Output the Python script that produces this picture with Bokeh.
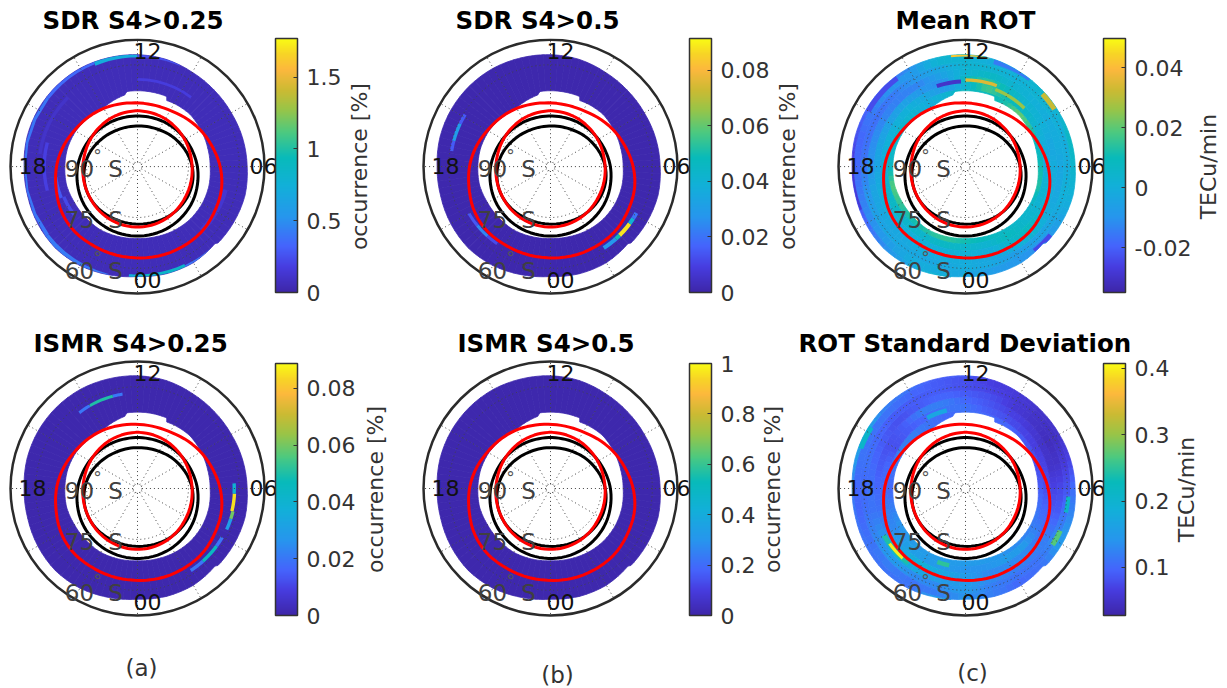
import math
import numpy as np
from bokeh.plotting import figure
from bokeh.layouts import column, row
from bokeh.models import (ColorBar, ColumnDataSource, FixedTicker, Label, LinearColorMapper, Range1d)
from bokeh.transform import transform
from bokeh.core.properties import value
from bokeh.embed import file_html
from bokeh.resources import INLINE

# Magnetic local time (hours) and colatitude of the coverage ring (deg from the pole)
MLT_HOURS = list(range(24))
INNER_MLT = [0, 1, 2, 3, 4, 5, 6, 7, 8, 9, 10, 10.42, 10.5, 11, 12, 12.55, 12.65, 13, 14, 15, 16, 17, 18, 19, 20, 21, 22, 23]
RING_INNER = [21.3, 21.5, 21.8, 22.0, 22.0, 21.8, 21.4, 21.4, 21.6, 21.9, 21.6, 21.4, 22.5, 22.5, 22.5, 22.5, 21.6,
              21.2, 20.1, 20.4, 21.0, 21.3, 21.4, 21.6, 21.4, 21.5, 21.7, 21.5]
OUTER_MLT = [0, 1, 2, 3, 3.05, 4, 5, 6, 7, 8, 9, 10, 11, 12, 13, 14, 15, 16, 17, 18, 19, 20, 21, 22, 23]
RING_OUTER = [32.6, 32.9, 32.9, 32.3, 32.8, 32.8, 32.8, 32.3, 32.1, 31.9, 32.0, 32.3, 32.9,
              33.2, 33.4, 33.7, 33.8, 33.8, 33.7, 33.4, 33.5, 33.9, 34.2, 33.9, 33.2]
BAND_EDGES = [20, 23, 25, 27, 29, 31, 33, 36]

# Oval boundaries (colatitude by MLT, 0..23)
RED_OUTER = [27.3, 27.5, 27.4, 27.3, 26.5, 25.9, 24.6, 23.0, 21.7, 20.4, 19.3, 19.0,
             19.0, 19.4, 20.1, 20.8, 21.6, 22.9, 24.1, 25.0, 26.3, 27.0, 27.0, 27.2]
RED_INNER = [18.1, 18.0, 17.7, 17.3, 16.8, 16.5, 16.2, 16.1, 16.2, 16.3, 16.5, 16.6,
             16.7, 16.6, 16.5, 16.3, 16.2, 16.1, 16.2, 16.5, 16.8, 17.3, 17.7, 18.0]
BLACK_OUTER = [20.8, 20.7, 20.4, 19.9, 19.3, 18.5, 17.8, 17.0, 16.4, 15.9, 15.5, 15.2,
               15.1, 15.2, 15.5, 15.9, 16.4, 17.0, 17.8, 18.5, 19.3, 19.9, 20.4, 20.7]
BLACK_INNER = [17.2, 17.3, 17.5, 17.5, 17.4, 17.0, 16.3, 15.3, 14.3, 13.5, 12.7, 12.3,
               12.1, 12.2, 12.5, 13.1, 13.9, 14.9, 15.7, 16.4, 16.9, 17.1, 17.1, 17.1]

# Field values: rows inner -> outer, columns MLT 0..23
MEAN_ROT = [
    [11, 9, 7, 5, 5, 13, 11, 7, 13, 21, 11, 9, 9, 3, -1, 3, 5, 5, 7, 19, 15, 11, 13, 15],
    [5, 3, 9, 5, 3, 3, -1, -1, 3, 7, 11, 17, 3, -9, -3, 1, 1, 1, 1, 5, 7, 5, 5, 7],
    [1, -1, 5, 9, 3, -1, -1, -3, 1, 3, 7, 15, 9, -11, -9, -5, -6, -4, -4, -1, 1, 1, 1, 1],
    [-1, -3, -1, 3, -1, -3, -3, -1, -1, 1, 3, 7, 3, -5, -13, -14, -13, -11, -10, -4, -3, -3, -1, -1],
    [-1, -3, -7, -5, -3, 1, -1, -1, 1, 3, 1, 3, 3, -3, -9, -15, -17, -17, -16, -10, -5, -3, -3, -3],
    [-3, -7, -9, -11, -5, 1, 5, 7, 3, 5, 1, -1, 3, 3, -9, -10, -15, -19, -19, -15, -11, -7, -1, -1],
    [3, -5, -9, -7, -3, 3, 7, 9, 19, 5, -11, -1, 7, 3, -11, -19, -19, -23, -28, -23, -19, -11, -3, 3],
]
ROT_STD = [
    [150, 150, 140, 130, 120, 110, 90, 80, 80, 90, 100, 100, 110, 100, 110, 120, 120, 110, 100, 120, 140, 150, 150, 150],
    [140, 140, 150, 150, 120, 100, 80, 70, 65, 70, 80, 90, 110, 110, 100, 90, 80, 100, 100, 120, 130, 160, 150, 150],
    [150, 130, 130, 130, 110, 90, 70, 50, 50, 60, 70, 85, 100, 120, 120, 90, 80, 90, 100, 110, 130, 170, 190, 170],
    [150, 130, 120, 120, 120, 90, 75, 50, 42, 50, 60, 80, 90, 100, 90, 80, 90, 100, 110, 110, 140, 190, 170, 150],
    [150, 120, 110, 110, 130, 110, 85, 60, 45, 50, 60, 70, 80, 90, 90, 90, 100, 110, 100, 110, 130, 150, 130, 130],
    [140, 120, 100, 110, 150, 130, 105, 70, 50, 50, 60, 65, 80, 90, 100, 110, 110, 110, 100, 100, 110, 120, 110, 120],
    [180, 150, 110, 120, 170, 150, 120, 80, 60, 60, 65, 70, 90, 90, 110, 120, 160, 150, 120, 110, 110, 110, 110, 150],
]
SDR_025_BASE = 0.05
SDR_05_BASE = 0.001
ISMR_025_BASE = 0.001
ISMR_05_BASE = 0.01

# Localised arcs: (MLT from, MLT to, colat from, colat to, value)
SDR_025_ARCS = [(15.5, 20.5, 32.9, 36, 0.40), (20.5, 23.0, 33.0, 36, 0.42), (12.0, 13.5, 32.4, 36, 0.72),
                (13.5, 15.5, 32.9, 36, 0.35), (10.5, 12.0, 32.4, 36, 0.25),
                (23.7, 24.0, 32.0, 36, 0.75), (0.0, 1.7, 32.0, 36, 0.85), (1.7, 2.8, 32.4, 36, 0.4),
                (9.5, 12.0, 25.5, 26.3, 0.17), (17.0, 19.0, 27.0, 28.0, 0.18), (15.0, 17.5, 28.5, 29.5, 0.11),
                (18.5, 19.5, 23.8, 24.8, 0.28), (3.0, 5.0, 26.0, 27.5, 0.13), (19.5, 20.5, 23.0, 24.0, 0.22)]
SDR_05_ARCS = [(15.9, 16.3, 29.0, 30.0, 0.015), (16.3, 17.0, 29.0, 30.0, 0.03), (17.0, 17.4, 29.0, 30.0, 0.015),
               (20.0, 20.6, 27.3, 28.2, 0.014), (20.6, 21.2, 27.3, 28.2, 0.024), (21.2, 21.7, 27.3, 28.2, 0.012),
               (2.2, 2.8, 28.2, 29.4, 0.028), (2.8, 3.0, 28.2, 29.4, 0.05), (3.0, 3.6, 28.2, 29.4, 0.088),
               (3.6, 3.85, 28.2, 29.4, 0.04), (3.85, 4.1, 28.2, 29.4, 0.02)]
MEAN_ROT_ARCS = [(11.2, 12.5, 32.7, 36, 0.042), (10.6, 12.0, 25.2, 26.2, 0.035), (12.2, 13.3, 24.7, 25.9, -0.03),
                 (8.2, 8.9, 30.5, 36, 0.032), (9.6, 11.0, 31.5, 33.0, -0.015), (14.5, 16.0, 32.3, 36, -0.024),
                 (18.0, 19.5, 33.0, 36, -0.028), (2.6, 3.4, 31.5, 36, -0.025), (9.0, 10.6, 24.0, 25.0, 0.026)]
ISMR_025_ARCS = [(12.6, 13.0, 27.7, 28.6, 0.02), (13.0, 14.0, 27.7, 28.6, 0.05), (14.0, 14.5, 27.7, 28.6, 0.02),
                 (4.35, 4.8, 28.4, 29.4, 0.03), (4.8, 5.1, 28.4, 29.4, 0.06), (5.1, 5.8, 28.1, 29.1, 0.085),
                 (5.8, 6.2, 28.0, 29.0, 0.04), (2.2, 2.8, 28.3, 29.3, 0.02), (2.8, 3.6, 28.3, 29.3, 0.045),
                 (3.6, 4.0, 28.3, 29.3, 0.02)]
ISMR_05_ARCS = []
ROT_STD_ARCS = [(20.0, 21.5, 27.0, 28.4, 0.24), (20.4, 21.2, 27.2, 28.1, 0.40), (22.6, 23.2, 22.5, 23.8, 0.25),
                (3.8, 4.4, 29.8, 31.3, 0.27), (5.1, 5.7, 29.8, 31.0, 0.21), (15.8, 16.6, 32.3, 36, 0.21),
                (12.9, 13.9, 23.0, 24.3, 0.17)]

TITLES = ["SDR S4>0.25", "SDR S4>0.5", "Mean ROT", "ISMR S4>0.25", "ISMR S4>0.5", "ROT Standard Deviation"]
CB_LABELS = ["occurrence [%]", "occurrence [%]", "TECu/min", "occurrence [%]", "occurrence [%]", "TECu/min"]
CB_RANGES = [(0, 1.77), (0, 0.0915), (-0.035, 0.0497), (0, 0.0888), (0, 1), (0.0276, 0.4075)]
CB_TICKS = [[0, 0.5, 1, 1.5], [0, 0.02, 0.04, 0.06, 0.08], [-0.02, 0, 0.02, 0.04],
            [0, 0.02, 0.04, 0.06, 0.08], [0, 0.2, 0.4, 0.6, 0.8, 1], [0.1, 0.2, 0.3, 0.4]]
CLOCK_LABELS = ["12", "18", "06", "00"]
LAT_LABELS = ["90", "75", "60"]
PANEL_LETTERS = ["(a)", "(b)", "(c)"]

PARULA_STOPS = [(0.00, (0.2422, 0.1504, 0.6603)), (0.10, (0.2780, 0.2400, 0.8800)), (0.18, (0.2700, 0.3900, 0.9900)),
                (0.30, (0.1500, 0.5900, 0.9300)), (0.42, (0.0700, 0.6900, 0.8500)), (0.53, (0.0300, 0.7300, 0.7300)),
                (0.63, (0.3000, 0.7900, 0.5000)), (0.72, (0.6000, 0.7700, 0.2800)), (0.80, (0.8000, 0.7300, 0.2000)),
                (0.88, (0.9900, 0.7200, 0.2400)), (0.94, (0.9700, 0.8300, 0.1500)), (1.00, (0.9769, 0.9839, 0.0805))]
_t = np.linspace(0, 1, 256)
_st = [s[0] for s in PARULA_STOPS]
PARULA = ["#%02x%02x%02x" % tuple(int(round(255 * np.interp(t, _st, [s[1][c] for s in PARULA_STOPS]))) for c in range(3)) for t in _t]

FONT = "DejaVu Sans"
PX = 129 / 38  # pixels per degree in the polar frame
DARK = "#333333"
ROW_TOP = {0: (0, 36, 322), 1: (322, 359, 688)}  # canvas top, frame top, canvas bottom
COLS = [(0, 400), (400, 805), (805, 1222), (0, 400), (400, 795), (795, 1222)]
CENTERS = [(137, 165), (550, 165), (965, 165), (137, 488), (550, 488), (965, 488)]
BAR_X = [275, 689, 1103, 275, 689, 1103]
BAR_Y = [(38, 292), (38, 292), (38, 292), (363, 615), (363, 615), (363, 615)]
TITLE_LEFT = [42, 455, 895, 33, 457, 798]


def polar(mlt, r):
    a = np.radians((np.asarray(mlt, dtype=float) - 6) * 15)
    return np.asarray(r) * np.cos(a), np.asarray(r) * np.sin(a)


def closed(vals, nodes=None):
    nodes = MLT_HOURS if nodes is None else nodes
    m = np.array(list(nodes) + [24], dtype=float)
    return m, np.array(list(vals) + [vals[0]], dtype=float)


def inner_at(mlt):
    m, v = closed(RING_INNER, INNER_MLT)
    return np.interp(mlt, m, v)


def outer_at(mlt):
    m, v = closed(RING_OUTER, OUTER_MLT)
    return np.interp(mlt, m, v)


def ring_cells(table, edges, scale=1.0):
    """Shaded patches of the ring from the table, cut at the read ring boundaries."""
    xs, ys, vs = [], [], []
    sub_n = 4
    for i, rowv in enumerate(table):
        cyc = list(rowv) + [rowv[0]]
        for k in range(24):
            for s in range(sub_n):
                f0, f1 = s / sub_n, (s + 1) / sub_n
                sub = np.linspace(k + f0, k + f1, 4)
                lo = np.maximum(edges[i], inner_at(sub))
                hi = np.minimum(edges[i + 1], outer_at(sub))
                if (hi - lo).max() <= 0:
                    continue
                hi = np.maximum(hi, lo)
                x0, y0 = polar(sub, lo)
                x1, y1 = polar(sub[::-1], hi[::-1])
                xs.append(list(x0) + list(x1))
                ys.append(list(y0) + list(y1))
                fm = (f0 + f1) / 2
                vs.append((cyc[k] * (1 - fm) + cyc[k + 1] * fm) * scale)
    return xs, ys, vs


def arc_cells(arcs):
    xs, ys, vs = [], [], []
    for a in arcs:
        sub = np.linspace(a[0], a[1], 7)
        lo = np.maximum(a[2], inner_at(sub))
        hi = np.minimum(a[3], outer_at(sub))
        x0, y0 = polar(sub, lo)
        x1, y1 = polar(sub[::-1], hi[::-1])
        xs.append(list(x0) + list(x1))
        ys.append(list(y0) + list(y1))
        vs.append(a[4])
    return xs, ys, vs


def chaikin(x, y, n=2):
    x, y = np.asarray(x), np.asarray(y)
    for _ in range(n):
        xa, ya = x[:-1], y[:-1]
        xb, yb = np.roll(xa, -1), np.roll(ya, -1)
        nx = np.ravel(np.column_stack([0.75 * xa + 0.25 * xb, 0.25 * xa + 0.75 * xb]))
        ny = np.ravel(np.column_stack([0.75 * ya + 0.25 * yb, 0.25 * ya + 0.75 * yb]))
        x, y = np.append(nx, nx[0]), np.append(ny, ny[0])
    return x, y


def build(i, table, edges, arcs, scale=1.0):
    lo, hi = CB_RANGES[i]
    mapper = LinearColorMapper(palette=PARULA, low=lo, high=hi)
    cl, cr = COLS[i]
    ct, ft, cb_ = ROW_TOP[i // 3]
    cx, cy = CENTERS[i]
    W, H = cr - cl, cb_ - ct
    p = figure(width=W, height=H, output_backend="svg", toolbar_location=None,
               x_range=Range1d((cl - cx) / PX, (cr - cx) / PX), y_range=Range1d((cy - cb_) / PX, (cy - ft) / PX),
               x_axis_type=None, y_axis_type=None, min_border_left=0, min_border_right=0,
               min_border_top=ft - ct, min_border_bottom=0, outline_line_color=None, title=TITLES[i])
    p.grid.visible = False
    p.title.align = "left"
    p.title.offset = TITLE_LEFT[i] - cl
    p.title.text_font = FONT
    p.title.text_font_size = "24.5px"
    p.title.text_font_style = "bold"
    p.title.text_color = "#000000"
    p.title.standoff = 7 if i < 3 else 4

    xs, ys, vs = ring_cells(table, edges, scale)
    src = ColumnDataSource(dict(xs=xs, ys=ys, v=vs))
    p.patches("xs", "ys", source=src, fill_color=transform("v", mapper), line_color=transform("v", mapper), line_width=0.8)
    if arcs:
        xs, ys, vs = arc_cells(arcs)
        p.patches(xs="xs", ys="ys", source=ColumnDataSource(dict(xs=xs, ys=ys, v=vs)),
                  fill_color=transform("v", mapper), line_color=None)

    # grid
    for r in [1.3, 15, 30]:
        p.circle(x=0, y=0, radius=r, fill_color=None, line_color="#444444", line_width=1, line_dash="1 3")
    for h in range(0, 24, 2):
        x, y = polar([h, h], [1.3, 37.4])
        p.line(x, y, line_color="#444444", line_width=1, line_dash="1 3")
    p.circle(x=0, y=0, radius=37.4, fill_color=None, line_color="#2b2b2b", line_width=2.5)

    for dy in (3.2, -27.2):
        p.text(x=[-11.8], y=[dy], text=["°"], text_font=value(FONT), text_font_size="17px",
               text_color="#555555", text_align="center", text_baseline="middle")

    m, _ = closed(RED_OUTER)
    for vals, col in [(BLACK_OUTER, "#000000"), (BLACK_INNER, "#000000"), (RED_OUTER, "#ff0000"), (RED_INNER, "#ff0000")]:
        x, y = polar(m, closed(vals)[1])
        x, y = chaikin(x, y)
        p.line(x, y, line_color=col, line_width=3)

    def lab(txt, dx, dy, color, size="22px", angle=0.0):
        p.add_layout(Label(x=0, y=0, x_offset=dx, y_offset=-dy, text=txt, text_font=FONT, text_font_size=size,
                           text_color=color, text_align="center", text_baseline="middle", angle=angle))

    for t, (dx, dy) in zip(CLOCK_LABELS, [(10, -116), (-105, -1), (126, -1), (10, 113)]):
        lab(t, dx, dy, "#111111")
    for t, dy in zip(LAT_LABELS, [2, 53, 104]):
        lab(t, -58, dy, "#404040", size="23px")
        lab("S", -22, dy, "#404040", size="23px")

    ticks = CB_TICKS[i]
    by0, by1 = BAR_Y[i]
    cb = ColorBar(color_mapper=mapper, width=22, height=by1 - by0, location=(BAR_X[i] - cl, cb_ - by1), margin=0, padding=0,
                  ticker=FixedTicker(ticks=ticks), major_label_overrides={t: ("%g" % t) for t in ticks},
                  major_label_text_font=FONT, major_label_text_font_size="22px", major_label_text_color=DARK,
                  bar_line_color=DARK, bar_line_width=1.5, major_tick_line_color=DARK, major_tick_in=4, major_tick_out=0,
                  minor_tick_line_color=None, label_standoff=9, background_fill_color=None, border_line_color=None)
    p.add_layout(cb)
    return p, lab


flat = lambda b: [[b] * 24]
p1, l1 = build(0, flat(SDR_025_BASE), [20, 36], SDR_025_ARCS)
p2, l2 = build(1, flat(SDR_05_BASE), [20, 36], SDR_05_ARCS)
p3, l3 = build(2, MEAN_ROT, BAND_EDGES, MEAN_ROT_ARCS, 0.001)
p4, l4 = build(3, flat(ISMR_025_BASE), [20, 36], ISMR_025_ARCS)
p5, l5 = build(4, flat(ISMR_05_BASE), [20, 36], ISMR_05_ARCS)
p6, l6 = build(5, ROT_STD, BAND_EDGES, ROT_STD_ARCS, 0.001)

# colour bar labels (horizontal offset from the polar centre, vertical offset)
for lab, i, dx, dy in [(l1, 0, 222, 0), (l2, 1, 237, 0), (l3, 2, 243, 0), (l4, 3, 238, 1), (l5, 4, 222, 1), (l6, 5, 221, 1)]:
    lab(CB_LABELS[i], dx, dy, DARK, angle=math.pi / 2)
for lab, t, dx, dy in [(l4, PANEL_LETTERS[0], 4, 179), (l5, PANEL_LETTERS[1], 7, 186), (l6, PANEL_LETTERS[2], 7, 184)]:
    lab(t, dx, dy, DARK, size="23px")

page = column(row(p1, p2, p3, spacing=0), row(p4, p5, p6, spacing=0), spacing=0)
open("out.html", "w").write(file_html(page, INLINE))
